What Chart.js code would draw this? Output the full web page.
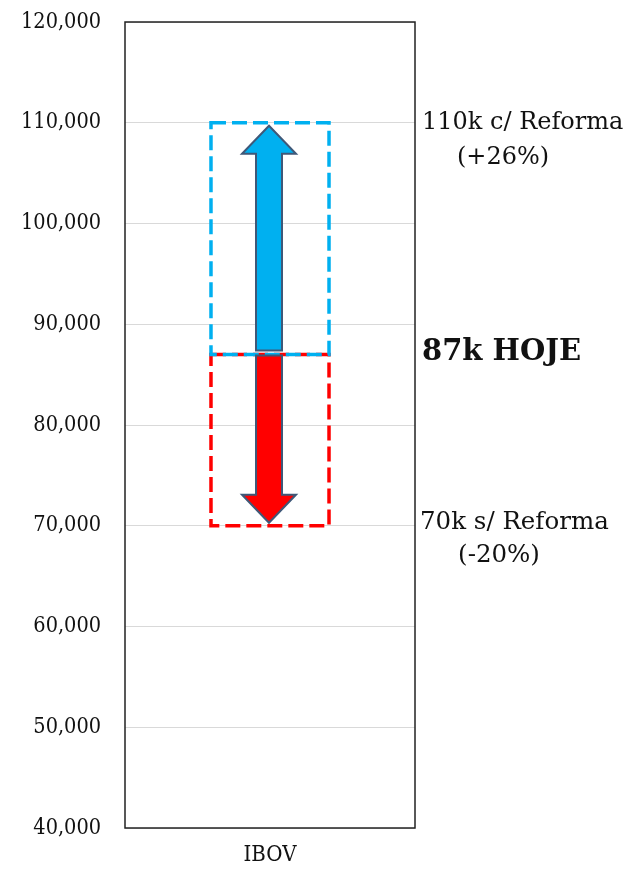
<!DOCTYPE html>
<html>
<head>
<meta charset="utf-8">
<script src="https://cdn.jsdelivr.net/npm/chart.js@4"></script>
<style>
  html, body { margin: 0; padding: 0; background: #fff; }
  #wrap { width: 628px; height: 869px; position: relative; }
</style>
</head>
<body>
<div id="wrap"><canvas id="chart"></canvas></div>
<script>
// data
var categories = ['IBOV'];
var hoje = [87000];
var comReforma = [110000];
var semReforma = [70000];
var yMin = 40000, yMax = 120000, yStep = 10000;

var labelHoje = ['87k HOJE'];
var labelCom = ['110k c/ Reforma', '(+26%)'];
var labelSem = ['70k s/ Reforma', '(-20%)'];

var BLUE = '#00B0F0', RED = '#FF0000', OUTLINE = '#3F5878';
var tickFont = 'DejaVu Serif Condensed';
var noteFont = 'DejaVu Serif';

function drawArrow(ctx, x, yFrom, yTo, fill) {
    var dir = yTo < yFrom ? -1 : 1;
    var shaftHalf = 13, headHalf = 27, headLen = 28;
    var yHead = yTo - dir * headLen;
    ctx.beginPath();
    ctx.moveTo(x - shaftHalf, yFrom);
    ctx.lineTo(x - shaftHalf, yHead);
    ctx.lineTo(x - headHalf, yHead);
    ctx.lineTo(x, yTo);
    ctx.lineTo(x + headHalf, yHead);
    ctx.lineTo(x + shaftHalf, yHead);
    ctx.lineTo(x + shaftHalf, yFrom);
    ctx.closePath();
    ctx.fillStyle = fill;
    ctx.fill();
    ctx.lineWidth = 2;
    ctx.strokeStyle = OUTLINE;
    ctx.lineJoin = 'miter';
    ctx.stroke();
}

var boxesPlugin = {
    id: 'boxes',
    afterDatasetsDraw: function(chart) {
        var ctx = chart.ctx;
        var yScale = chart.scales.y;
        var area = chart.chartArea;
        ctx.save();
        // red box first, blue on top (as in the picture)
        [1, 0].forEach(function(di) {
            var ds = chart.data.datasets[di];
            var meta = chart.getDatasetMeta(di);
            meta.data.forEach(function(bar, i) {
                var left = bar.x - bar.width / 2, right = bar.x + bar.width / 2;
                var top = Math.min(bar.y, bar.base), bottom = Math.max(bar.y, bar.base);
                ctx.setLineDash([15, 6]);
                ctx.lineWidth = 3.5;
                ctx.strokeStyle = ds.dashColor;
                ctx.strokeRect(left, top, right - left, bottom - top);
                ctx.setLineDash([]);
            });
        });
        // arrows from today to each scenario
        var meta0 = chart.getDatasetMeta(0);
        meta0.data.forEach(function(bar, i) {
            var yNow = yScale.getPixelForValue(hoje[i]);
            drawArrow(ctx, bar.x - 1, yNow - 4, yScale.getPixelForValue(comReforma[i]) + 3, BLUE);
            drawArrow(ctx, bar.x - 1, yNow + 1, yScale.getPixelForValue(semReforma[i]) - 3, RED);
        });
        // outer frame
        ctx.lineWidth = 1.5;
        ctx.strokeStyle = '#222';
        ctx.strokeRect(area.left, area.top, area.right - area.left, area.bottom - area.top);

        // notes on the right
        var xNote = area.right + 7;
        ctx.fillStyle = '#111';
        ctx.textBaseline = 'middle';
        ctx.font = '24px "' + noteFont + '"';
        ctx.textAlign = 'left';
        var yc = yScale.getPixelForValue(comReforma[0]);
        ctx.fillText(labelCom[0], xNote, yc);
        ctx.textAlign = 'center';
        ctx.fillText(labelCom[1], xNote + 81, yc + 35);
        var ys = yScale.getPixelForValue(semReforma[0]);
        ctx.textAlign = 'left';
        ctx.font = '24.5px "' + noteFont + '"';
        ctx.fillText(labelSem[0], xNote - 2, ys - 3);
        ctx.textAlign = 'center';
        ctx.fillText(labelSem[1], xNote + 77, ys + 30);
        ctx.textAlign = 'left';
        ctx.font = 'bold 29px "' + noteFont + '"';
        ctx.fillText(labelHoje[0], xNote, yScale.getPixelForValue(hoje[0]) - 2);
        ctx.restore();
    }
};

new Chart(document.getElementById('chart'), {
    type: 'bar',
    data: {
        labels: categories,
        datasets: [
            {
                label: 'c/ Reforma',
                data: categories.map(function(c, i) { return [hoje[i], comReforma[i]]; }),
                backgroundColor: 'rgba(0,0,0,0)',
                borderWidth: 0,
                dashColor: BLUE,
                grouped: false
            },
            {
                label: 's/ Reforma',
                data: categories.map(function(c, i) { return [semReforma[i], hoje[i]]; }),
                backgroundColor: 'rgba(0,0,0,0)',
                borderWidth: 0,
                dashColor: RED,
                grouped: false
            }
        ]
    },
    options: {
        responsive: true,
        maintainAspectRatio: false,
        animation: false,
        layout: { padding: { top: 22, right: 213, left: 0, bottom: 0 } },
        categoryPercentage: 1,
        barPercentage: 0.407,
        plugins: {
            legend: { display: false },
            tooltip: { enabled: false }
        },
        scales: {
            x: {
                grid: { display: false, drawTicks: false },
                border: { display: false },
                ticks: { color: '#111', font: { family: tickFont, size: 22 }, padding: 14 },
                afterFit: function(scale) { scale.height = 41; }
            },
            y: {
                min: yMin,
                max: yMax,
                ticks: {
                    stepSize: yStep,
                    color: '#111',
                    font: { family: tickFont, size: 21.5 },
                    padding: 24,
                    callback: function(v) { return v.toLocaleString('en-US'); }
                },
                grid: { color: '#d9d9d9', lineWidth: 1, drawTicks: false },
                border: { display: false },
                afterFit: function(scale) {
                    scale.width = 125;
                    scale.paddingTop = 0;
                    scale.paddingBottom = 0;
                }
            }
        }
    },
    plugins: [boxesPlugin]
});
</script>
</body>
</html>
